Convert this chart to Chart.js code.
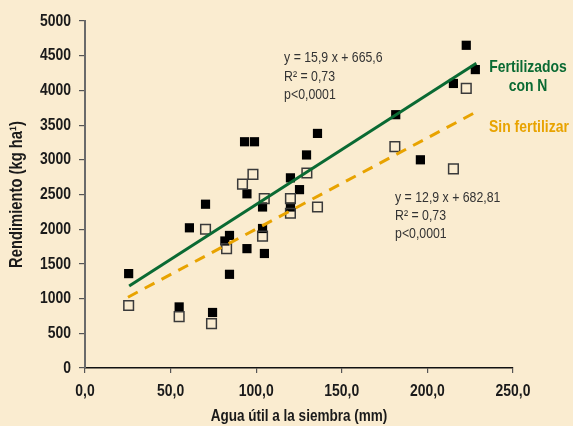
<!DOCTYPE html>
<html><head><meta charset="utf-8">
<script src="https://cdn.jsdelivr.net/npm/chart.js@4.4.1/dist/chart.umd.min.js"></script>
<style>html,body{margin:0;padding:0;background:#faecd0;}canvas{display:block;}</style>
</head><body>
<canvas id="c" width="573" height="426"></canvas>
<script>
const FONT = '"Liberation Sans Narrow","Liberation Sans",sans-serif';

// Fertilizados con N (filled squares)
const fertX = [25.5, 55, 61, 70.4, 74.5, 81.7, 84.4, 84.4, 94.6, 93.2, 99, 94.6, 103.7, 103.7, 104.8, 120, 120, 125.3, 129.4, 135.8, 181.5, 195.9, 215.2, 222.7, 228];
const fertY = [1360, 880, 2020, 2360, 800, 1830, 1910, 1350, 1720, 3260, 3260, 2510, 2320, 2010, 1650, 2740, 2320, 2570, 3070, 3380, 3650, 3000, 4100, 4650, 4300];
// Sin fertilizar (open squares)
const sinX = [25.5, 55, 70.4, 73.9, 82.7, 92, 98.1, 104.7, 103.7, 120, 120, 129.6, 135.8, 181, 215.2, 222.7];
const sinY = [900, 740, 2000, 640, 1720, 2650, 2790, 2440, 1900, 2440, 2230, 2810, 2320, 3190, 2870, 4030];
// Regression line end points as drawn
const fitFertX = [25.8, 228.6];
const fitFertY = [1180, 4390];
const fitSinX = [25.1, 228.5];
const fitSinY = [1020, 3690];
// Axes
const xMin = 0, xMax = 250, xStep = 50;
const yMin = 0, yMax = 5000, yStep = 500;
const xTitle = 'Agua útil a la siembra (mm)';
const yTitle = 'Rendimiento (kg ha¹)';
// Annotations
const eqFert = ['y = 15,9 x + 665,6', 'R² = 0,73', 'p<0,0001'];
const eqFertAt = [116.3, 4467];
const eqSin = ['y = 12,9 x + 682,81', 'R² = 0,73', 'p<0,0001'];
const eqSinAt = [181.1, 2454];
const labFert = ['Fertilizados', 'con N'];
const labFertAt = [258.8, 4337];
const labSin = ['Sin fertilizar'];
const labSinAt = [259.3, 3473];

const GREEN = '#0a6a33';
const ORANGE = '#e8a300';

// Narrow-text emulation if the narrow face is not installed
(function () {
  const m = document.createElement('canvas').getContext('2d');
  m.font = 'bold 40px "Liberation Sans Narrow","Liberation Sans"';
  const a = m.measureText('Fertilizados 0000').width;
  m.font = 'bold 40px "Liberation Sans"';
  const b = m.measureText('Fertilizados 0000').width;
  const squeeze = (a / b > 0.9) ? 0.82 : 1;
  if (squeeze !== 1) {
    const orig = CanvasRenderingContext2D.prototype.fillText;
    CanvasRenderingContext2D.prototype.fillText = function (t, x, y, mw) {
      this.save();
      this.translate(x, y);
      this.scale(squeeze, 1);
      if (mw !== undefined) orig.call(this, t, 0, 0, mw / squeeze); else orig.call(this, t, 0, 0);
      this.restore();
    };
  }
})();

const zip = (xs, ys) => xs.map((x, i) => ({x, y: ys[i]}));

const textPlugin = {
  id: 'texts',
  afterDatasetsDraw(chart) {
    const {ctx, scales: {x, y}} = chart;
    ctx.save();
    ctx.textBaseline = 'middle';
    const block = (lines, at, font, color, align, lh) => {
      ctx.font = font; ctx.fillStyle = color; ctx.textAlign = align;
      const px = x.getPixelForValue(at[0]);
      const py = y.getPixelForValue(at[1]);
      lines.forEach((t, i) => ctx.fillText(t, px, py + i * lh));
    };
    block(eqFert, eqFertAt, '15px ' + FONT, '#333', 'left', 18.5);
    block(eqSin, eqSinAt, '15px ' + FONT, '#333', 'left', 18.2);
    block(labFert, labFertAt, 'bold 17px ' + FONT, GREEN, 'center', 19);
    block(labSin, labSinAt, 'bold 17px ' + FONT, ORANGE, 'center', 19);
    ctx.restore();
  }
};

new Chart(document.getElementById('c'), {
  type: 'scatter',
  data: {
    datasets: [
      {label: 'fitFert', type: 'line', data: zip(fitFertX, fitFertY), borderColor: GREEN, borderWidth: 3, pointRadius: 0, fill: false, order: 0},
      {label: 'fitSin', type: 'line', data: zip(fitSinX, fitSinY), borderColor: ORANGE, borderWidth: 3, borderDash: [11, 8], pointRadius: 0, fill: false, order: 0},
      {label: 'Sin fertilizar', data: zip(sinX, sinY), pointStyle: 'rect', pointRadius: 6.8, backgroundColor: 'rgba(0,0,0,0)', borderColor: '#3a3a3a', borderWidth: 1.5, order: 1},
      {label: 'Fertilizados con N', data: zip(fertX, fertY), pointStyle: 'rect', pointRadius: 6.5, backgroundColor: '#000', borderColor: '#000', borderWidth: 0, order: 2}
    ]
  },
  options: {
    responsive: false,
    animation: false,
    devicePixelRatio: 1,
    layout: {padding: {left: 0, right: 60, top: 21, bottom: 0}},
    plugins: {legend: {display: false}, tooltip: {enabled: false}},
    scales: {
      x: {
        type: 'linear', min: xMin, max: xMax,
        afterFit: s => { s.height = 58; },
        ticks: {stepSize: xStep, color: '#1a1a1a', padding: 8, maxRotation: 0, autoSkip: false,
          font: {family: FONT, size: 17, weight: 'bold'},
          callback: v => v.toFixed(1).replace('.', ',')},
        grid: {display: true, drawOnChartArea: false, drawTicks: true, tickLength: 5, color: '#555', lineWidth: 1.2},
        border: {display: true, color: '#111', width: 1.5},
        title: {display: true, text: xTitle, color: '#1a1a1a', padding: {top: 0, bottom: 0},
          font: {family: FONT, size: 16.5, weight: 'bold'}}
      },
      y: {
        type: 'linear', min: yMin, max: yMax,
        afterFit: s => { s.width = 85; },
        ticks: {stepSize: yStep, color: '#1a1a1a', padding: 8, autoSkip: false,
          font: {family: FONT, size: 17, weight: 'bold'},
          callback: v => String(v)},
        grid: {display: true, drawOnChartArea: false, drawTicks: true, tickLength: 6, color: '#555', lineWidth: 1.2},
        border: {display: true, color: '#6a6a6a', width: 2},
        title: {display: true, text: yTitle, color: '#1a1a1a', padding: {top: 6, bottom: 0},
          font: {family: FONT, size: 18, weight: 'bold'}}
      }
    }
  },
  plugins: [textPlugin]
});
</script>
</body></html>
